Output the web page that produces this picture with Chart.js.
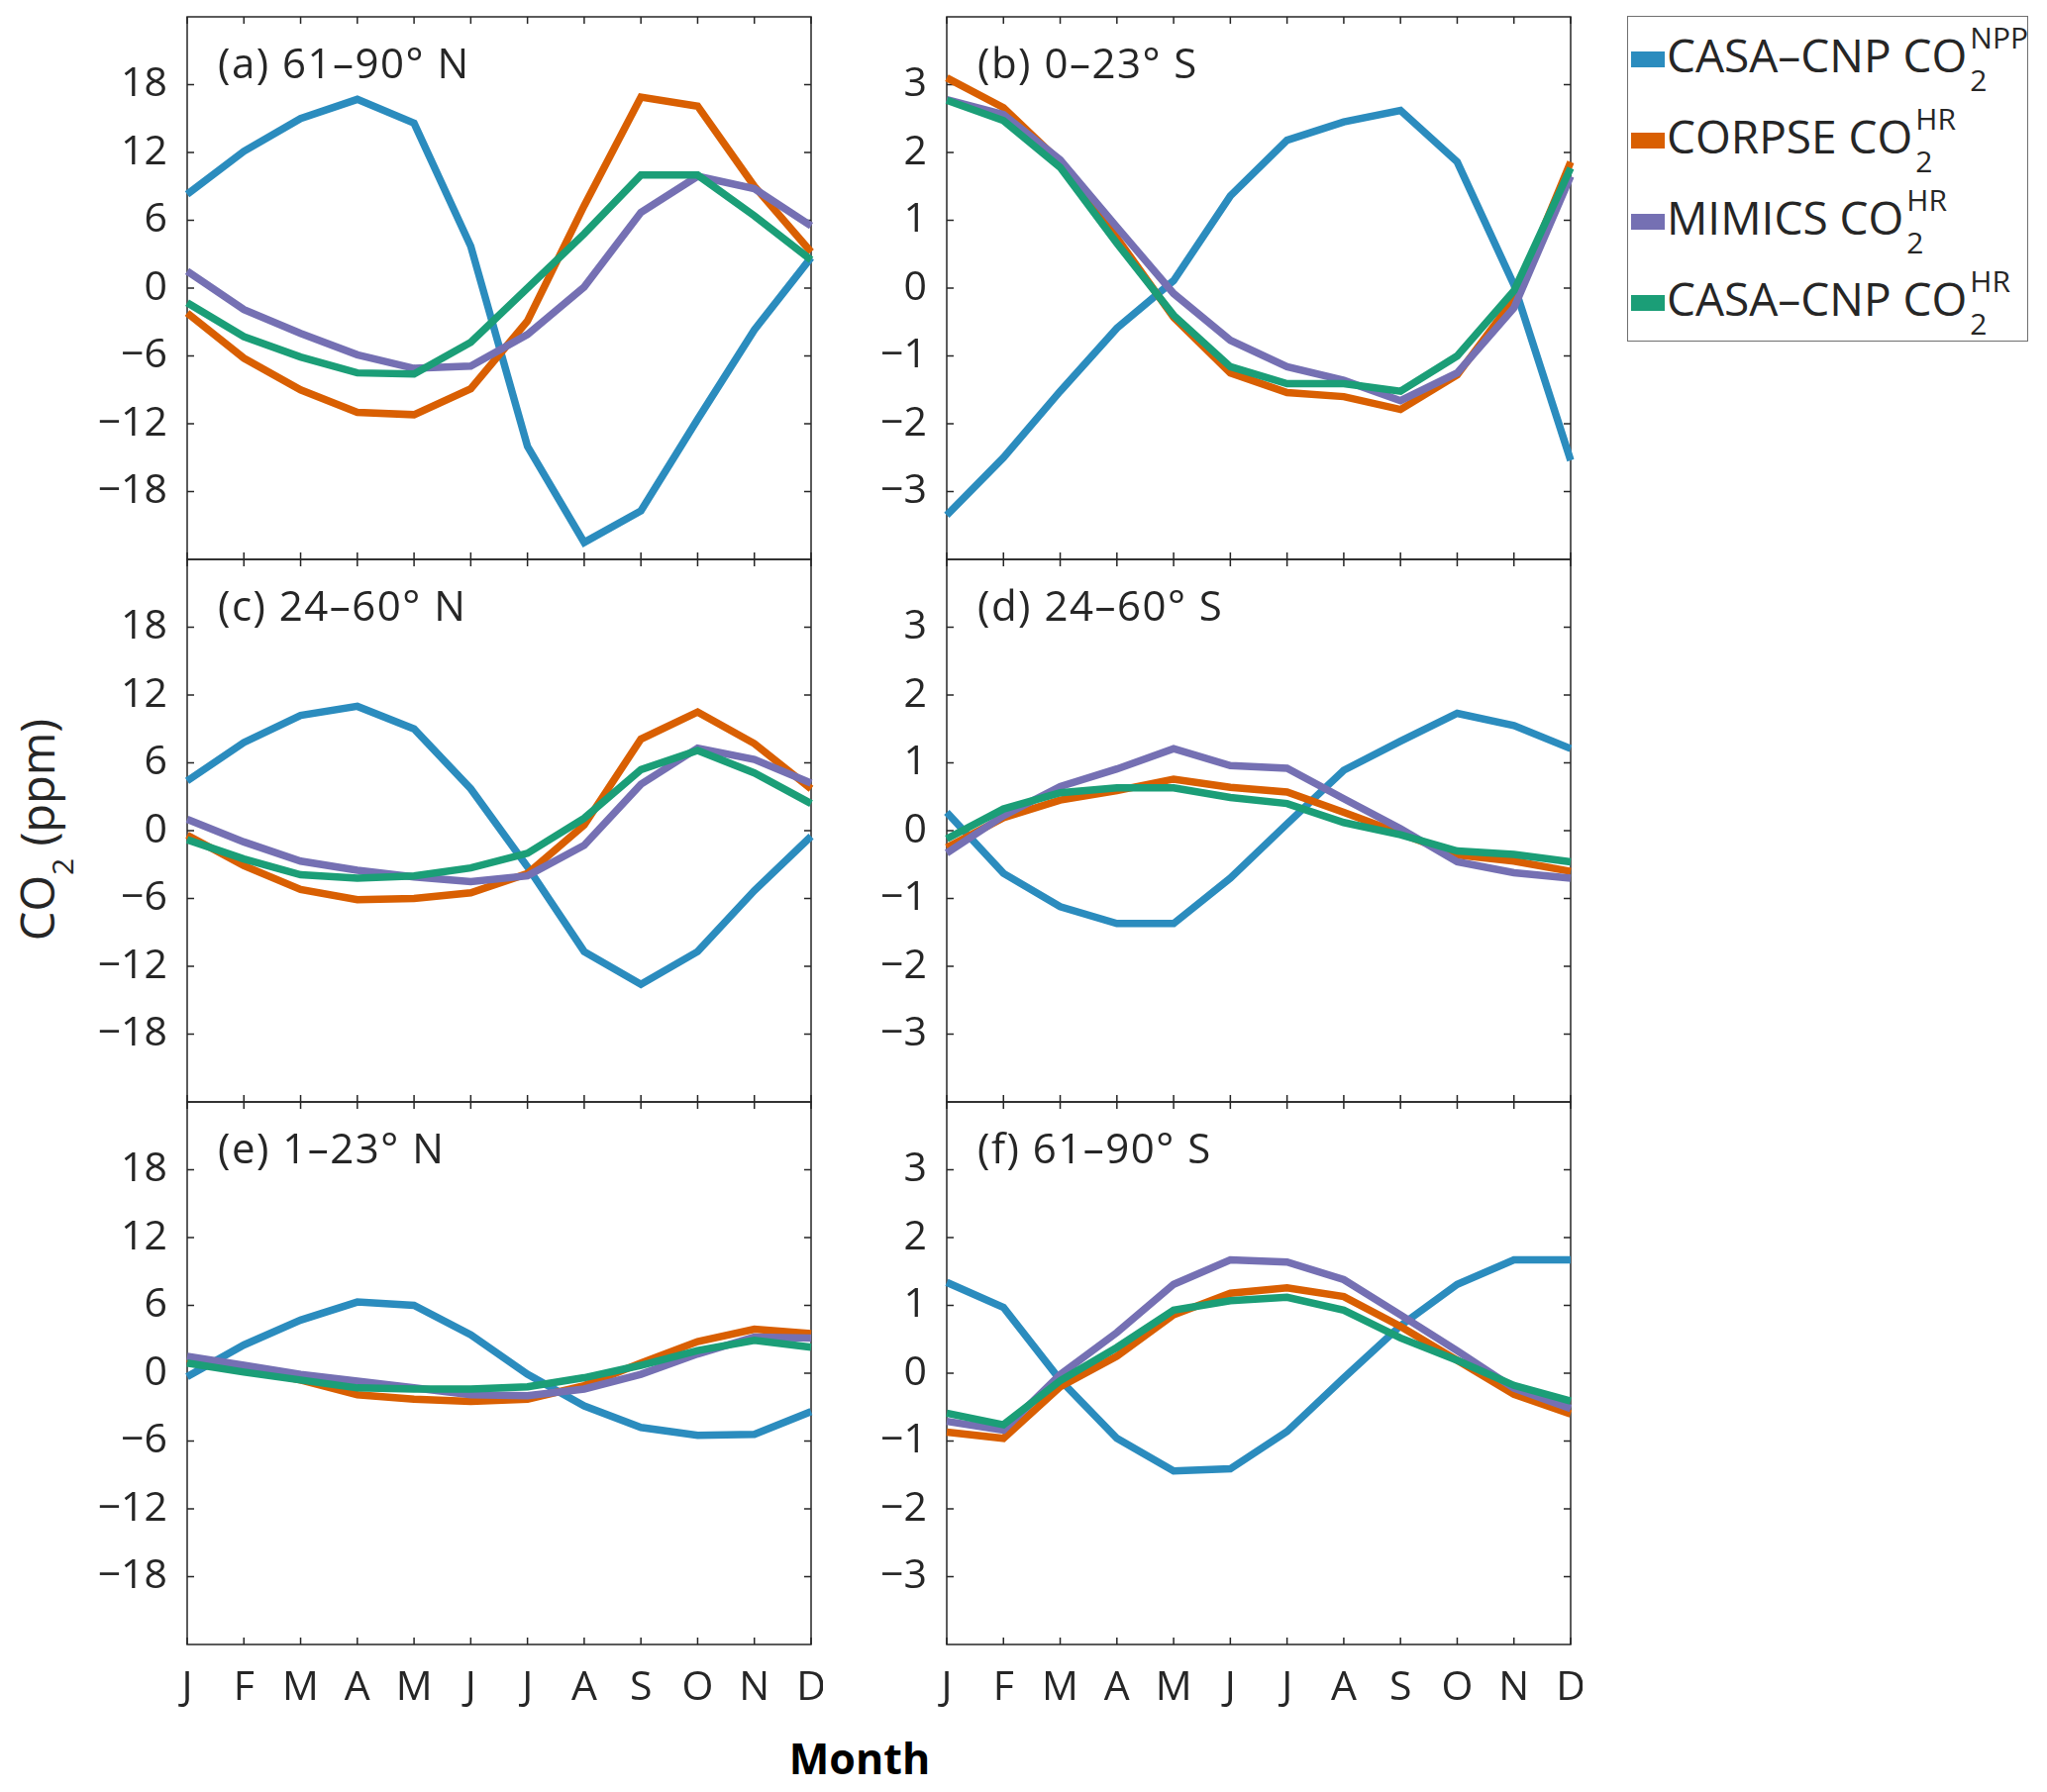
<!DOCTYPE html>
<html>
<head>
<meta charset="utf-8">
<script src="https://cdn.jsdelivr.net/npm/chart.js@4.4.0/dist/chart.umd.min.js"></script>
<style>
  html, body { margin: 0; padding: 0; background: #fff; }
  body { width: 2067px; height: 1810px; position: relative; overflow: hidden;
         font-family: "Open Sans", sans-serif; color: #262626; }
  canvas { position: absolute; }
  .ptitle { position: absolute; font-size: 42px; line-height: 1; white-space: nowrap; letter-spacing: 1.5px; }
  #legend { position: absolute; left: 1643px; top: 16px; width: 403px; height: 327px;
            border: 1.5px solid #6f6f6f; background: #fff; }
  .entry { position: absolute; font-size: 46px; line-height: 1; white-space: nowrap; }
  .swatch { position: absolute; left: -36px; top: 20px; width: 34px; height: 16px; }
  .stack { position: relative; display: inline-block; width: 0; height: 0; }
  .stack span { position: absolute; left: 3px; font-size: 30px; line-height: 1; }
  .stack .sup { bottom: 20px; }
  .stack .sub { top: -7px; }
  #ylabel { position: absolute; left: 37px; top: 838px; font-size: 47px; line-height: 1;
            white-space: nowrap; transform: translate(-50%, -50%) rotate(-90deg); }
  #ylabel .s { font-size: 30px; position: relative; top: 19px; }
  #xlabel { position: absolute; left: 868px; top: 1754px; font-size: 43px; font-weight: bold;
            line-height: 1; transform: translateX(-50%); color: #000; }
</style>
</head>
<body>
<div id="legend"></div>
<div id="ylabel">CO<span class="s">2</span> (ppm)</div>
<div id="xlabel">Month</div>
<script>
const months = ['J', 'F', 'M', 'A', 'M', 'J', 'J', 'A', 'S', 'O', 'N', 'D'];
const northTicks = [-18, -12, -6, 0, 6, 12, 18];
const southTicks = [-3, -2, -1, 0, 1, 2, 3];
const northRange = [-24, 24];
const southRange = [-4, 4];

const seriesNames = ['CASA\u2013CNP CO', 'CORPSE CO', 'MIMICS CO', 'CASA\u2013CNP CO'];
const seriesSup = ['NPP', 'HR', 'HR', 'HR'];
const seriesColors = ['#2b8cbe', '#d95f02', '#7570b3', '#1b9e77'];

const panelTitles = ['(a) 61\u201390\u00b0 N', '(b) 0\u201323\u00b0 S', '(c) 24\u201360\u00b0 N',
                     '(d) 24\u201360\u00b0 S', '(e) 1\u201323\u00b0 N', '(f) 61\u201390\u00b0 S'];

// (a) 61-90 N
const nppA    = [8.3, 12.1, 15.0, 16.7, 14.6, 3.7, -14.0, -22.5, -19.7, -11.6, -3.7, 2.7];
const corpseA = [-2.2, -6.2, -9.0, -11.0, -11.2, -8.9, -2.9, 7.3, 16.9, 16.1, 9.0, 3.2];
const mimicsA = [1.5, -1.9, -4.0, -5.9, -7.1, -6.9, -4.1, 0.1, 6.7, 9.9, 8.8, 5.5];
const casaA   = [-1.3, -4.3, -6.1, -7.5, -7.6, -4.8, 0.0, 4.8, 10.0, 10.0, 6.4, 2.5];
// (b) 0-23 S
const nppB    = [-3.35, -2.5, -1.52, -0.59, 0.11, 1.36, 2.18, 2.45, 2.62, 1.86, 0.05, -2.54];
const corpseB = [3.1, 2.66, 1.86, 0.74, -0.43, -1.25, -1.54, -1.6, -1.79, -1.28, -0.16, 1.86];
const mimicsB = [2.78, 2.56, 1.89, 0.9, -0.08, -0.77, -1.16, -1.36, -1.66, -1.25, -0.29, 1.65];
const casaB   = [2.77, 2.47, 1.78, 0.66, -0.4, -1.16, -1.41, -1.41, -1.52, -1.0, -0.04, 1.77];
// (c) 24-60 N
const nppC    = [4.4, 7.8, 10.2, 11.0, 9.0, 3.7, -3.2, -10.7, -13.6, -10.7, -5.3, -0.5];
const corpseC = [-0.4, -3.1, -5.2, -6.1, -6.0, -5.5, -3.8, 0.5, 8.1, 10.5, 7.7, 3.7];
const mimicsC = [1.0, -1.0, -2.7, -3.5, -4.1, -4.5, -4.0, -1.3, 4.1, 7.3, 6.3, 4.2];
const casaC   = [-0.8, -2.5, -3.9, -4.2, -4.0, -3.3, -2.0, 1.1, 5.4, 7.1, 5.1, 2.4];
// (d) 24-60 S
const nppD    = [0.27, -0.63, -1.12, -1.37, -1.37, -0.7, 0.1, 0.89, 1.32, 1.73, 1.55, 1.21];
const corpseD = [-0.25, 0.19, 0.45, 0.59, 0.76, 0.64, 0.57, 0.27, -0.04, -0.36, -0.45, -0.6];
const mimicsD = [-0.33, 0.22, 0.65, 0.91, 1.21, 0.96, 0.92, 0.47, 0.03, -0.46, -0.62, -0.7];
const casaD   = [-0.12, 0.32, 0.56, 0.63, 0.63, 0.49, 0.4, 0.12, -0.06, -0.3, -0.35, -0.46];
// (e) 1-23 N
const nppE    = [-0.3, 2.5, 4.7, 6.3, 6.0, 3.4, -0.1, -2.9, -4.8, -5.5, -5.4, -3.4];
const corpseE = [1.3, 0.4, -0.6, -1.9, -2.3, -2.5, -2.3, -1.1, 0.9, 2.8, 3.9, 3.5];
const mimicsE = [1.5, 0.7, -0.1, -0.7, -1.3, -1.9, -2.0, -1.4, -0.1, 1.7, 3.2, 3.1];
const casaE   = [0.9, 0.1, -0.6, -1.3, -1.4, -1.4, -1.2, -0.4, 0.7, 2.0, 2.9, 2.3];
// (f) 61-90 S
const nppF    = [1.34, 0.97, -0.1, -0.96, -1.44, -1.41, -0.86, -0.07, 0.7, 1.31, 1.67, 1.67];
const corpseF = [-0.87, -0.96, -0.2, 0.25, 0.86, 1.18, 1.26, 1.13, 0.69, 0.19, -0.31, -0.6];
const mimicsF = [-0.71, -0.84, -0.02, 0.6, 1.31, 1.67, 1.64, 1.38, 0.86, 0.33, -0.22, -0.52];
const casaF   = [-0.59, -0.76, -0.11, 0.38, 0.93, 1.07, 1.12, 0.93, 0.52, 0.19, -0.18, -0.41];

// layout of the 3x2 grid (page pixels)
const colLeft = [189, 956];
const rowTop = [17, 565, 1113];
const plotW = 630, plotH = 548;
const AXIS_W = 120, PAD_T = 12, PAD_R = 12, PAD_B = 12, XAXIS_H = 90;
const TICK_LEN = 7;
const FONT = '"Open Sans", sans-serif';
const AXIS_COLOR = '#262626';

const panels = [
  { series: [nppA, corpseA, mimicsA, casaA], ticks: northTicks, range: northRange, col: 0, row: 0 },
  { series: [nppB, corpseB, mimicsB, casaB], ticks: southTicks, range: southRange, col: 1, row: 0 },
  { series: [nppC, corpseC, mimicsC, casaC], ticks: northTicks, range: northRange, col: 0, row: 1 },
  { series: [nppD, corpseD, mimicsD, casaD], ticks: southTicks, range: southRange, col: 1, row: 1 },
  { series: [nppE, corpseE, mimicsE, casaE], ticks: northTicks, range: northRange, col: 0, row: 2 },
  { series: [nppF, corpseF, mimicsF, casaF], ticks: southTicks, range: southRange, col: 1, row: 2 },
];

// box with inward ticks on all four sides, matlab style
const frameTicks = {
  id: 'frameTicks',
  beforeDatasetsDraw(chart) {
    const { ctx, chartArea: a, scales: { x, y } } = chart;
    ctx.save();
    ctx.strokeStyle = AXIS_COLOR;
    ctx.lineWidth = 1.5;
    ctx.strokeRect(a.left, a.top, a.right - a.left, a.bottom - a.top);
    ctx.beginPath();
    x.ticks.forEach((t, i) => {
      const px = x.getPixelForTick(i);
      ctx.moveTo(px, a.bottom); ctx.lineTo(px, a.bottom - TICK_LEN);
      ctx.moveTo(px, a.top); ctx.lineTo(px, a.top + TICK_LEN);
    });
    y.ticks.forEach(t => {
      const py = y.getPixelForValue(t.value);
      ctx.moveTo(a.left, py); ctx.lineTo(a.left + TICK_LEN, py);
      ctx.moveTo(a.right, py); ctx.lineTo(a.right - TICK_LEN, py);
    });
    ctx.stroke();
    ctx.restore();
  }
};

panels.forEach((p, i) => {
  const left = colLeft[p.col], top = rowTop[p.row];
  const bottomRow = p.row === 2;
  const w = AXIS_W + plotW + PAD_R;
  const h = PAD_T + plotH + PAD_B + (bottomRow ? XAXIS_H : 0);

  const canvas = document.createElement('canvas');
  canvas.width = w; canvas.height = h;
  canvas.style.left = (left - AXIS_W) + 'px';
  canvas.style.top = (top - PAD_T) + 'px';
  canvas.style.width = w + 'px';
  canvas.style.height = h + 'px';
  document.body.appendChild(canvas);

  const title = document.createElement('div');
  title.className = 'ptitle';
  title.textContent = panelTitles[i];
  title.style.left = (left + 31) + 'px';
  title.style.top = (top + 25) + 'px';
  document.body.appendChild(title);

  new Chart(canvas, {
    type: 'line',
    data: {
      labels: months,
      datasets: p.series.map((vals, k) => ({
        label: seriesNames[k] + '2 ' + seriesSup[k],
        data: vals,
        borderColor: seriesColors[k],
        backgroundColor: seriesColors[k],
        borderWidth: 7.5,
        pointRadius: 0,
        tension: 0,
        order: 4 - k,
      }))
    },
    options: {
      responsive: false,
      animation: false,
      layout: { padding: { left: 0, right: PAD_R, top: PAD_T, bottom: PAD_B } },
      plugins: { legend: { display: false }, tooltip: { enabled: false } },
      scales: {
        x: {
          type: 'category',
          offset: false,
          grid: { display: false, drawTicks: false },
          border: { display: false },
          ticks: {
            display: bottomRow, autoSkip: false, maxRotation: 0, padding: 20,
            color: AXIS_COLOR, font: { family: FONT, size: 41 }
          },
          afterFit(s) { s.height = bottomRow ? XAXIS_H : 0; s.paddingLeft = 0; s.paddingRight = 0; }
        },
        y: {
          min: p.range[0],
          max: p.range[1],
          grid: { display: false, drawTicks: false },
          border: { display: false },
          afterBuildTicks(s) { s.ticks = p.ticks.map(v => ({ value: v })); },
          ticks: {
            padding: 20, color: AXIS_COLOR, font: { family: FONT, size: 41 },
            callback: v => String(v).replace('-', '\u2212')
          },
          afterFit(s) { s.width = AXIS_W; s.paddingTop = 0; s.paddingBottom = 0; }
        }
      }
    },
    plugins: [frameTicks]
  });
});

// legend with stacked sub/superscripts
const legend = document.getElementById('legend');
const baselines = [56, 138, 220, 302];
seriesNames.forEach((name, k) => {
  const e = document.createElement('div');
  e.className = 'entry';
  e.style.left = (1682 - 1643) + 'px';
  e.style.top = (baselines[k] - 41) + 'px';
  e.innerHTML = '<div class="swatch" style="background:' + seriesColors[k] + '"></div>' +
    name + '<span class="stack"><span class="sup">' + seriesSup[k] +
    '</span><span class="sub">2</span></span>';
  legend.appendChild(e);
});
</script>
</body>
</html>
